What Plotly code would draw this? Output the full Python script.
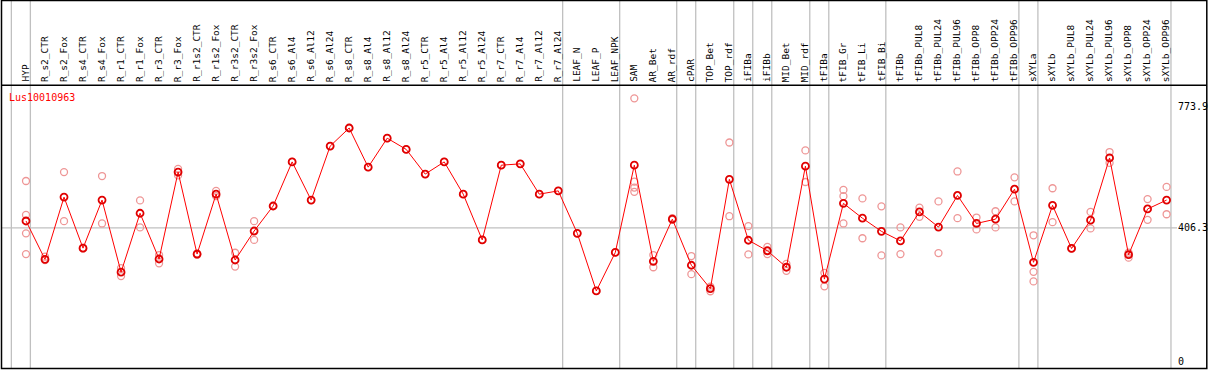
import plotly.graph_objects as go

categories = ["HYP", "R_s2_CTR", "R_s2_Fox", "R_s4_CTR", "R_s4_Fox", "R_r1_CTR", "R_r1_Fox",
              "R_r3_CTR", "R_r3_Fox", "R_r1s2_CTR", "R_r1s2_Fox", "R_r3s2_CTR", "R_r3s2_Fox",
              "R_s6_CTR", "R_s6_Al4", "R_s6_Al12", "R_s6_Al24", "R_s8_CTR", "R_s8_Al4",
              "R_s8_Al12", "R_s8_Al24", "R_r5_CTR", "R_r5_Al4", "R_r5_Al12", "R_r5_Al24",
              "R_r7_CTR", "R_r7_Al4", "R_r7_Al12", "R_r7_Al24", "LEAF_N", "LEAF_P", "LEAF_NPK",
              "SAM", "AR_Bet", "AR_rdf", "cPAR", "TOP_Bet", "TOP_rdf", "iFIBa", "iFIBb",
              "MID_Bet", "MID_rdf", "tFIBa", "tFIB_Gr", "tFIB_Li", "tFIB_Bi", "tFIBb",
              "tFIBb_PUL8", "tFIBb_PUL24", "tFIBb_PUL96", "tFIBb_OPP8", "tFIBb_OPP24",
              "tFIBb_OPP96", "sXYLa", "sXYLb", "sXYLb_PUL8", "sXYLb_PUL24", "sXYLb_PUL96",
              "sXYLb_OPP8", "sXYLb_OPP24", "sXYLb_OPP96"]

means = [427.5, 311, 500, 345, 491, 272, 451, 312, 576, 327, 509, 309, 397,
         473, 607, 491, 655, 710, 591, 679, 645, 570, 607, 509, 370,
         597, 601, 509, 519, 390, 215, 332,
         597, 305, 433, 293, 222, 554, 369, 337, 287, 594, 251, 481, 436, 396, 367,
         455, 409, 505, 420, 433, 524, 302, 475, 344, 430, 619, 325, 464, 491]

replicates = [
    [549, 446, 390, 327], [319, 309], [576, 427], [346, 344], [564, 420], [284, 260],
    [490, 408], [324, 299], [586, 566], [329, 325], [519, 503], [331, 289], [427, 370],
    [473], [607], [491], [655], [710], [591], [679], [645], [570], [607], [509], [370],
    [597], [601], [509], [519], [390], [215], [332],
    [800, 547, 529, 516], [324, 287], [436, 431], [321, 266], [228, 214], [666, 442],
    [412, 326], [349, 327], [297, 276], [642, 546], [270, 229], [522, 503, 420],
    [496, 375], [472, 323], [408, 327], [468, 440], [487, 330], [578, 436], [438, 402],
    [457, 408], [560, 487], [384, 273, 244], [527, 424], [345, 344], [455, 405],
    [637, 604], [331, 316], [494, 431], [531, 448]]

# last category index of each group (separator drawn just after it)
group_ends = [-1, 0, 28, 31, 34, 35, 37, 38, 39, 41, 42, 45, 52, 53, 60]

axis_ticks = [773.9, 406.3, 0]
axis_tick_labels = ["773.9", "406.3", "0"]
gene = "Lus10010963"

W, H = 1209, 370
x_idx = list(range(len(categories)))

rx, ry = [], []
for i, reps in enumerate(replicates):
    for v in reps:
        rx.append(i)
        ry.append(v)

fig = go.Figure()
fig.add_trace(go.Scatter(x=rx, y=ry, mode="markers",
                         marker=dict(symbol="circle-open", size=7, color="rgb(238,150,150)",
                                     line=dict(width=1.3, color="rgb(238,150,150)")),
                         hoverinfo="skip", showlegend=False))
fig.add_trace(go.Scatter(x=x_idx, y=means, mode="lines+markers",
                         line=dict(color="#ff0000", width=1),
                         marker=dict(symbol="circle-open", size=7, color="#e00000",
                                     line=dict(width=1.8, color="#e00000")),
                         showlegend=False))

# pixel mapping
step = 19.01
x0 = -26.0 / step
x1 = x0 + W / step
slope = 0.32916
y_bottom = (361.7 - H) / slope
y_top = 361.7 / slope

def px(xp):
    return xp / W

def py(yp):
    return 1 - yp / H

shapes = []
for g in group_ends:
    shapes.append(dict(type="line", xref="x", yref="paper", x0=g + 0.23, x1=g + 0.23,
                       y0=py(368), y1=py(0), line=dict(color="#c0c0c0", width=1.3), layer="below"))
shapes.append(dict(type="line", xref="paper", yref="y", x0=px(2), x1=px(1177),
                   y0=406.3, y1=406.3, line=dict(color="#c0c0c0", width=1.3), layer="below"))
# frame
shapes.append(dict(type="rect", xref="paper", yref="paper", x0=px(1.5), x1=px(1206.8),
                   y0=py(368.5), y1=py(0.5), line=dict(color="black", width=1.5)))
shapes.append(dict(type="line", xref="paper", yref="paper", x0=px(1.5), x1=px(1206.8),
                   y0=py(85.3), y1=py(85.3), line=dict(color="black", width=1.5)))

annotations = []
for i, c in enumerate(categories):
    annotations.append(dict(x=i - 0.05, y=py(83), xref="x", yref="paper", text=c, textangle=-90,
                            showarrow=False, xanchor="center", yanchor="bottom",
                            font=dict(family="DejaVu Sans Mono", size=9.5, color="black"),
                            borderpad=0))
for v, t in zip(axis_ticks, axis_tick_labels):
    annotations.append(dict(x=px(1177), y=v, xref="paper", yref="y", text=t, showarrow=False,
                            xanchor="left", yanchor="middle",
                            font=dict(family="DejaVu Sans Mono", size=10, color="black"),
                            borderpad=0))
annotations.append(dict(x=px(8), y=py(97), xref="paper", yref="paper", text=gene,
                        showarrow=False, xanchor="left", yanchor="middle",
                        font=dict(family="DejaVu Sans Mono", size=10, color="#ff0000"),
                        borderpad=0))

fig.update_layout(width=W, height=H, autosize=False,
                  margin=dict(l=0, r=0, t=0, b=0, pad=0),
                  paper_bgcolor="white", plot_bgcolor="white",
                  xaxis=dict(range=[x0, x1], visible=False, showgrid=False, zeroline=False),
                  yaxis=dict(range=[y_bottom, y_top], visible=False, showgrid=False, zeroline=False),
                  shapes=shapes, annotations=annotations)

fig.write_html("out.html", config={"displayModeBar": False},
               post_script="document.body.style.margin='0';document.body.style.overflow='hidden';")
